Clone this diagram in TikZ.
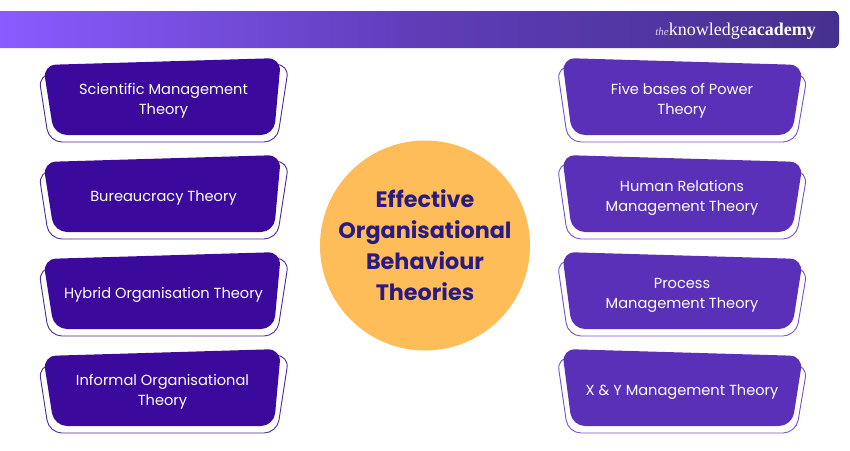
\documentclass[tikz,border=0pt]{standalone}
\usepackage{fontspec}
\setmainfont{Poppins}
\newfontfamily\logofont{Liberation Serif}
\usetikzlibrary{calc}
\definecolor{leftbox}{HTML}{3B0A9C}
\definecolor{rightbox}{HTML}{5A30B8}
\definecolor{leftline}{HTML}{4A2A9A}
\definecolor{rightline}{HTML}{7A50D0}
\definecolor{disc}{HTML}{FFBD59}
\definecolor{disctext}{HTML}{2B1A80}
\definecolor{barl}{HTML}{8A5BFF}
\definecolor{barm}{HTML}{5F3DB8}
\definecolor{barr}{HTML}{46308F}
\tikzset{
  x=1pt,y=-1pt,
  boxtext/.style={text=white,font=\fontsize{14.6}{20}\selectfont,align=center,inner sep=0pt},
}
\newcommand{\lbox}[4]{%
  \begin{scope}[yshift=-#1pt]
    \draw[leftline,line width=0.9pt,fill=white,rounded corners=13pt] (38.5,74) -- (289,64) -- (277,142) -- (49,142) -- cycle;
    \fill[leftbox,rounded corners=13pt] (43,65) -- (281,58) -- (274,135) -- (54,135) -- cycle;
    \node[boxtext] (#2) at (#4,100.5) {#3};
  \end{scope}}
\newcommand{\rbox}[4]{%
  \begin{scope}[yshift=-#1pt]
    \draw[rightline,line width=0.9pt,fill=white,rounded corners=13pt] (557,66) -- (807.5,74) -- (796,142) -- (568,142) -- cycle;
    \fill[rightbox,rounded corners=13pt] (562,58) -- (803,65) -- (792,135) -- (572,135) -- cycle;
    \node[boxtext] (#2) at (682,#4) {#3};
  \end{scope}}
\begin{document}
\begin{tikzpicture}
\useasboundingbox (0,0) rectangle (850,450);
\fill[white] (0,0) rectangle (850,450);
\begin{scope}
  \path[clip,rounded corners=6pt] (-20,11) rectangle (839,48);
  \fill[left color=barl,right color=barm] (0,11) rectangle (420,48);
  \fill[left color=barm,right color=barr] (420,11) rectangle (839,48);
\end{scope}
\node[anchor=base east,inner sep=0pt,text=white,font=\logofont\fontsize{18}{20}\selectfont] (logo) at (816,35.5) {{\fontsize{11}{10}\selectfont\itshape\color{white!75!barm}the}knowledge\textbf{academy}};
\lbox{0}{a}{Scientific Management\\Theory}{163.5}
\lbox{97}{b}{Bureaucracy Theory}{163.5}
\lbox{194}{c}{Hybrid Organisation Theory}{163.5}
\lbox{291}{d}{Informal Organisational\\Theory}{162.5}
\rbox{0}{e}{Five bases of Power\\Theory}{100.5}
\rbox{97}{f}{Human Relations\\Management Theory}{100.5}
\rbox{194}{g}{Process\\Management Theory}{101.5}
\rbox{291}{h}{X \& Y Management Theory}{101.5}
\fill[disc] (425,245.5) circle (105);
\node[text=disctext,align=center,inner sep=0pt,font=\fontsize{22.3}{31}\bfseries\selectfont] (title) at (425,245.5) {Effective\\Organisational\\Behaviour\\Theories};
\end{tikzpicture}
\end{document}
